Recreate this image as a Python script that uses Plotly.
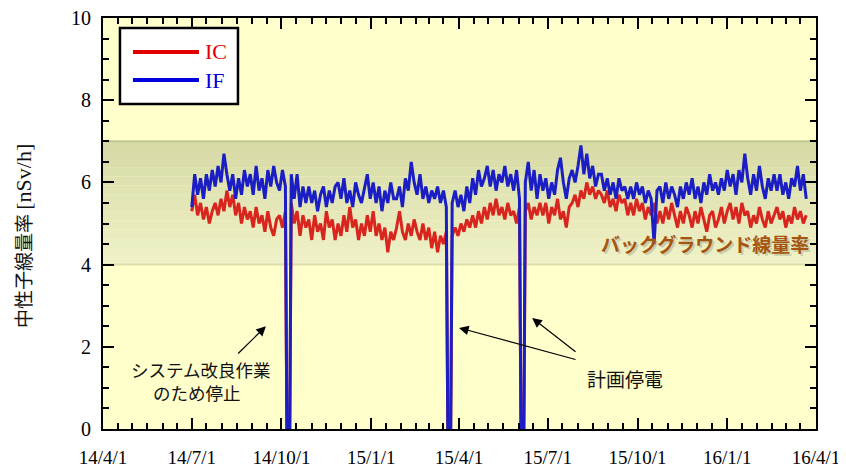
import pandas as pd
import plotly.graph_objects as go

# ---------------- data ----------------
start_date = "2014-07-01"
step = "3D"

ic_values = [
    5.3, 5.7, 5.2, 5.5, 5.1, 5.4, 5.0, 5.3, 5.5, 5.2,
    5.6, 5.3, 5.8, 5.4, 5.7, 5.2, 5.5, 5.0, 5.4, 5.1,
    5.3, 4.9, 5.4, 5.0, 5.2, 4.8, 5.3, 4.9, 4.7, 5.1,
    5.2, 4.9, 5.3, 0.0, 5.5, 5.0, 5.3, 4.7, 5.2, 4.9,
    5.1, 4.6, 5.2, 4.8, 5.0, 4.6, 5.3, 4.9, 5.1, 4.6,
    5.0, 4.7, 5.2, 4.8, 5.4, 4.9, 5.1, 4.6, 5.0, 4.7,
    5.2, 4.8, 5.3, 4.7, 5.0, 4.6, 4.9, 4.3, 4.8, 4.6,
    4.9, 5.3, 4.8, 4.6, 5.0, 4.7, 5.1, 4.8, 4.6, 5.0,
    4.6, 4.9, 4.4, 4.8, 4.3, 4.7, 4.5, 4.8, 0.0, 4.7,
    4.9, 4.7, 5.0, 4.8, 5.1, 4.9, 5.2, 4.9, 5.3, 5.0,
    5.4, 5.1, 5.5, 5.2, 5.6, 5.2, 5.4, 5.1, 5.5, 5.2,
    5.3, 5.0, 5.4, 0.0, 5.3, 5.5, 5.1, 5.4, 5.2, 5.5,
    5.2, 5.5, 5.0, 5.4, 5.2, 5.6, 5.1, 5.3, 4.9, 5.4,
    5.5, 5.7, 5.4, 5.8, 5.6, 6.0, 5.7, 5.9, 5.6, 5.8,
    5.7, 5.5, 5.8, 5.4, 5.6, 5.3, 5.7, 5.5, 5.6, 5.2,
    5.5, 5.2, 5.6, 5.3, 5.5, 5.1, 5.4, 5.2, 5.5, 5.0,
    5.3, 5.0, 5.4, 5.1, 5.5, 5.2, 4.9, 5.3, 5.0, 5.4,
    5.2, 4.9, 5.3, 5.0, 5.4, 5.1, 4.8, 5.2, 5.3, 4.9,
    5.1, 5.4, 5.0, 5.3, 5.5, 5.1, 5.4, 5.0, 5.5, 5.2,
    5.3, 4.9, 5.2, 5.0, 5.4, 5.1, 4.9, 5.3, 5.0, 5.2,
    5.4, 5.1, 5.3, 4.9, 5.2, 5.0, 5.4, 5.1, 5.3, 5.0, 5.2,
]

if_values = [
    5.4, 6.2, 5.7, 6.1, 5.6, 6.2, 5.8, 6.3, 5.9, 6.4,
    6.0, 6.7, 6.2, 5.8, 6.2, 5.6, 6.1, 5.7, 6.3, 5.9,
    6.2, 5.7, 6.4, 5.8, 6.1, 5.6, 6.3, 5.9, 6.4, 6.0,
    5.8, 6.3, 5.9, 0.0, 6.2, 5.6, 6.2, 5.4, 5.9, 5.5,
    5.9, 5.5, 5.8, 5.3, 5.7, 5.9, 5.4, 5.8, 5.5, 5.9,
    6.0, 5.6, 6.1, 5.5, 5.8, 5.4, 6.0, 5.7, 5.5, 5.9,
    6.2, 5.6, 6.0, 5.5, 5.9, 5.3, 5.8, 5.5, 6.0, 5.6,
    5.6, 5.9, 5.4, 6.1, 5.8, 6.5, 6.0, 5.7, 6.2, 5.6,
    5.9, 5.5, 5.8, 5.6, 5.9, 5.5, 5.8, 5.4, 0.0, 5.5,
    5.8, 5.4, 5.7, 5.3, 5.9, 5.5, 6.1, 5.7, 6.3, 5.9,
    6.1, 6.4, 5.9, 6.3, 5.8, 6.2, 6.0, 6.4, 5.9, 6.2,
    5.8, 6.3, 5.6, 0.0, 6.0, 6.5, 5.8, 6.3, 5.6, 6.2,
    5.8, 6.1, 5.6, 6.0, 5.7, 6.3, 6.6, 6.0, 5.6, 6.1,
    6.3, 6.0, 6.4, 6.9, 6.2, 6.7, 6.1, 6.4, 5.9, 6.2,
    6.2, 5.8, 6.1, 5.7, 6.0, 5.6, 6.1, 5.8, 5.9, 5.6,
    5.9, 5.6, 6.0, 5.7, 5.9, 5.5, 5.8, 5.6, 4.5, 5.8,
    5.9, 5.5, 6.0, 5.6, 5.9, 5.7, 5.4, 5.9, 5.6, 6.0,
    5.7, 6.1, 5.6, 5.9, 5.5, 6.0, 5.7, 6.2, 5.8, 6.0,
    5.7, 6.1, 5.8, 6.3, 5.9, 6.2, 5.7, 6.3, 6.0, 6.7,
    6.1, 5.7, 6.2, 5.8, 6.4, 5.9, 5.6, 6.1, 5.8, 6.2,
    5.8, 6.2, 5.7, 6.0, 5.6, 6.1, 5.9, 6.4, 5.8, 6.2, 5.6,
]

# extra times with zero reading during the outages
outage_zero_dates = ["2014-10-06 12:00", "2014-10-09 12:00",
                     "2015-03-20 12:00", "2015-03-23 12:00",
                     "2015-06-03 12:00", "2015-06-06 12:00"]

background_range = [4.0, 7.0]

x_tick_vals = ["2014-04-01", "2014-07-01", "2014-10-01", "2015-01-01", "2015-04-01",
               "2015-07-01", "2015-10-01", "2016-01-01", "2016-04-01"]
x_tick_text = ["14/4/1", "14/7/1", "14/10/1", "15/1/1", "15/4/1",
               "15/7/1", "15/10/1", "16/1/1", "16/4/1"]
y_tick_vals = [0, 2, 4, 6, 8, 10]

# ---------------- build series ----------------
assert len(ic_values) == len(if_values)
reg_dates = pd.date_range(start_date, periods=len(ic_values), freq=step)
zero_dates = pd.to_datetime(outage_zero_dates)

def build(vals):
    s = pd.Series(vals, index=reg_dates)
    z = pd.Series([0.0] * len(zero_dates), index=zero_dates)
    return pd.concat([s, z]).sort_index()

ic = build(ic_values)
iff = build(if_values)

minor_vals = []
for m in pd.date_range("2014-04-01", "2016-03-01", freq="MS"):
    minor_vals.append(m)
    minor_vals.append(m + pd.Timedelta(days=15))

SERIF = "Liberation Serif, Times New Roman, DejaVu Serif, serif"
GOTHIC = "Noto Sans CJK JP, sans-serif"

fig = go.Figure()
fig.add_trace(go.Scatter(x=ic.index, y=ic.values, mode="lines", name="IC",
                         line=dict(color="#d8261f", width=3), showlegend=False))
fig.add_trace(go.Scatter(x=iff.index, y=iff.values, mode="lines", name="IF",
                         line=dict(color="#1a1ec4", width=3), showlegend=False))

# background band gradient
shapes = []
n = 14
lo, hi = background_range
c_bot = (240, 241, 200)
c_top = (214, 218, 164)
for i in range(n):
    t = (i + 0.5) / n
    c = tuple(int(round(c_bot[j] + (c_top[j] - c_bot[j]) * t)) for j in range(3))
    shapes.append(dict(type="rect", xref="paper", yref="y", x0=0, x1=1,
                       y0=lo + (hi - lo) * i / n, y1=lo + (hi - lo) * (i + 1) / n,
                       fillcolor="rgb(%d,%d,%d)" % c, line=dict(width=0), layer="below"))
for yv, col in [(hi, "rgba(190,195,140,0.9)"), (lo, "rgba(215,218,170,0.9)")]:
    shapes.append(dict(type="line", xref="paper", yref="y", x0=0, x1=1, y0=yv, y1=yv,
                       line=dict(color=col, width=2), layer="below"))

# legend box (manual)
shapes.append(dict(type="rect", xref="paper", yref="paper", x0=0.0238, x1=0.1893,
                   y0=0.7908, y1=0.9757, fillcolor="white",
                   line=dict(color="black", width=2.5), layer="above"))
shapes.append(dict(type="line", xref="paper", yref="paper", x0=0.042, x1=0.1346,
                   y0=0.9173, y1=0.9173, line=dict(color="#e00000", width=4)))
shapes.append(dict(type="line", xref="paper", yref="paper", x0=0.042, x1=0.1346,
                   y0=0.8491, y1=0.8491, line=dict(color="#0000dd", width=4)))

annotations = [
    dict(xref="paper", yref="paper", x=0.140, y=0.9173, text="IC", showarrow=False,
         xanchor="left", yanchor="middle",
         font=dict(family=SERIF, size=22, color="#e00000")),
    dict(xref="paper", yref="paper", x=0.140, y=0.8491, text="IF", showarrow=False,
         xanchor="left", yanchor="middle",
         font=dict(family=SERIF, size=22, color="#0000dd")),
    # background label with shadow
    dict(xref="paper", yref="paper", x=(707 - 103) / 713, y=(429 - 245) / 411,
         xanchor="center", yanchor="middle",
         text="<b>バックグラウンド線量率</b>", showarrow=False,
         font=dict(family=GOTHIC, size=19, color="rgba(140,140,120,0.35)")),
    dict(xref="paper", yref="paper", x=(705 - 103) / 713, y=(429 - 243) / 411,
         xanchor="center", yanchor="middle",
         text="<b>バックグラウンド線量率</b>", showarrow=False,
         font=dict(family=GOTHIC, size=19, color="#a5550f")),
    # texts
    dict(xref="paper", yref="paper", x=(200 - 103) / 713, y=(429 - 369) / 411,
         xanchor="center", yanchor="middle", borderpad=0, borderwidth=0,
         text="システム改良作業", showarrow=False,
         font=dict(family=GOTHIC, size=17.5, color="#111111")),
    dict(xref="paper", yref="paper", x=(197 - 103) / 713, y=(429 - 392) / 411,
         xanchor="center", yanchor="middle", borderpad=0, borderwidth=0,
         text="のため停止", showarrow=False,
         font=dict(family=GOTHIC, size=17.5, color="#111111")),
    dict(xref="paper", yref="paper", x=(625 - 103) / 713, y=(429 - 378) / 411,
         xanchor="center", yanchor="middle",
         text="計画停電", showarrow=False,
         font=dict(family=GOTHIC, size=19, color="#111111")),
    # arrows
    dict(xref="x", yref="y", axref="x", ayref="y", x="2014-09-15", y=2.5,
         ax="2014-08-16", ay=1.8, text="", showarrow=True, arrowhead=2,
         arrowsize=1.6, arrowwidth=1.2, arrowcolor="black"),
    dict(xref="x", yref="y", axref="x", ayref="y", x="2015-04-01", y=2.46,
         ax="2015-07-31", ay=1.68, text="", showarrow=True, arrowhead=2,
         arrowsize=1.6, arrowwidth=1.2, arrowcolor="black"),
    dict(xref="x", yref="y", axref="x", ayref="y", x="2015-06-15", y=2.7,
         ax="2015-07-31", ay=1.85, text="", showarrow=True, arrowhead=2,
         arrowsize=1.6, arrowwidth=1.2, arrowcolor="black"),
    # y-axis title
    dict(xref="paper", yref="paper", x=(22 - 103) / 713, y=(429 - 236) / 411,
         text="中性子線量率 <span style='font-family:Liberation Serif;font-size:22px'>[nSv/h]</span>",
         showarrow=False, textangle=-90, xanchor="center", yanchor="middle",
         font=dict(family=GOTHIC, size=19, color="#111111")),
]

# the page body adds an 8px offset, so the figure is 8px smaller than the window
fig.update_layout(
    width=838, height=461,
    margin=dict(l=95, r=30, t=10, b=40, autoexpand=False),
    paper_bgcolor="white", plot_bgcolor="#ffffcc",
    shapes=shapes, annotations=annotations,
    showlegend=False,
)
fig.update_xaxes(
    type="date", range=["2014-04-01", "2016-04-01"], automargin=False,
    tickmode="array", tickvals=x_tick_vals, ticktext=x_tick_text,
    ticks="inside", ticklen=11, tickwidth=1.5, tickcolor="black",
    minor=dict(tickmode="array", tickvals=minor_vals, ticks="inside",
               ticklen=6, tickwidth=1.5, tickcolor="black"),
    showline=True, linecolor="black", linewidth=2, mirror="ticks",
    showgrid=False, zeroline=False, ticklabelstandoff=10, ticklabeloverflow="allow",
    tickfont=dict(family=SERIF, size=19, color="black"),
)
fig.update_yaxes(
    range=[0, 10], tickmode="array", tickvals=y_tick_vals, automargin=False,
    ticks="inside", ticklen=11, tickwidth=1.5, tickcolor="black",
    minor=dict(dtick=0.5, ticks="inside", ticklen=6, tickwidth=1.5, tickcolor="black"),
    showline=True, linecolor="black", linewidth=2, mirror="ticks",
    showgrid=False, zeroline=False, ticklabelstandoff=6, ticklabeloverflow="allow",
    tickfont=dict(family=SERIF, size=20, color="black"),
)

fig.write_html("out.html")
